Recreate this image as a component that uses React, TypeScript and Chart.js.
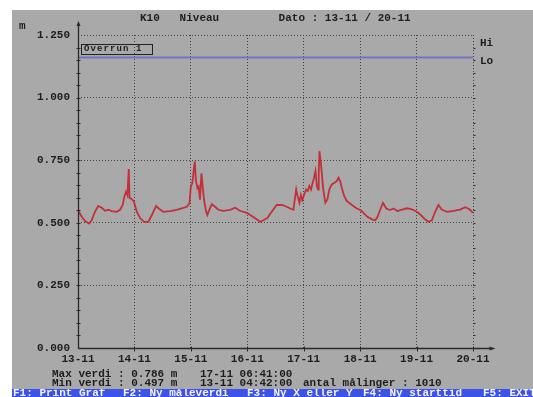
import React, { useEffect, useRef } from "react";
import { Chart, registerables } from "chart.js";

Chart.register(...registerables);

// ---- data ----
const dayLabels = ["13-11", "14-11", "15-11", "16-11", "17-11", "18-11", "19-11", "20-11"];
const yTickValues = [0, 0.25, 0.5, 0.75, 1.0, 1.25];
// hours since 13-11 00:00
const hours = [
  0, 1.6, 3.0, 4.7, 5.8, 7.2, 8.6, 10.1, 11.5, 12.9, 14.3, 16.5, 17.9, 19.0, 19.7, 20.4, 21.0, 21.6, 21.9, 22.8,
  23.8, 25.0, 26.4, 28.1, 29.9, 31.4, 33.2, 34.6, 36.3, 39.1, 42.0, 44.1, 46.3, 47.4, 48.0, 48.6, 49.1, 49.7, 50.1, 50.8,
  51.3, 51.9, 52.5, 52.9, 53.6, 54.5, 55.0, 55.8, 56.9, 58.3, 59.7, 61.8, 64.7, 66.8, 68.9, 71.8, 73.9, 76.0, 77.4, 78.8,
  80.5, 82.4, 84.5, 86.7, 88.8, 90.2, 91.6, 92.8, 93.3, 94.2, 94.8, 95.4, 96.2, 97.0, 97.7, 98.4, 99.1, 99.8, 100.4, 101.0,
  101.6, 102.1, 102.4, 102.7, 103.4, 104.3, 105.2, 106.1, 106.9, 107.9, 109.1, 110.1, 110.8, 111.5, 112.2, 113.2, 114.3, 115.7, 117.1, 118.6,
  120.3, 121.7, 123.1, 125.0, 126.4, 127.4, 128.5, 129.7, 131.1, 132.8, 134.2, 135.9, 137.5, 139.9, 142.0, 144.1, 145.8, 147.6, 149.1, 150.5,
  151.9, 153.3, 154.7, 156.9, 159.7, 162.5, 164.7, 166.5, 168,
];
const levels = [
  0.55, 0.524, 0.507, 0.497, 0.51, 0.544, 0.567, 0.56, 0.548, 0.552, 0.547, 0.544, 0.552, 0.571, 0.604, 0.624, 0.61, 0.715, 0.6, 0.595,
  0.584, 0.544, 0.519, 0.504, 0.504, 0.531, 0.567, 0.555, 0.544, 0.547, 0.552, 0.558, 0.564, 0.578, 0.645, 0.658, 0.698, 0.745, 0.672, 0.638,
  0.645, 0.592, 0.698, 0.658, 0.592, 0.544, 0.531, 0.551, 0.574, 0.564, 0.552, 0.548, 0.552, 0.56, 0.548, 0.54, 0.527, 0.514, 0.504, 0.51,
  0.519, 0.544, 0.571, 0.571, 0.564, 0.557, 0.552, 0.633, 0.61, 0.58, 0.61, 0.59, 0.613, 0.633, 0.627, 0.647, 0.633, 0.66, 0.68, 0.707,
  0.647, 0.633, 0.7, 0.786, 0.728, 0.633, 0.58, 0.594, 0.633, 0.653, 0.66, 0.667, 0.68, 0.667, 0.64, 0.607, 0.587, 0.577, 0.567, 0.557,
  0.55, 0.537, 0.524, 0.514, 0.51, 0.524, 0.551, 0.58, 0.557, 0.551, 0.557, 0.547, 0.552, 0.558, 0.554, 0.544, 0.531, 0.514, 0.504, 0.51,
  0.544, 0.571, 0.553, 0.544, 0.548, 0.553, 0.562, 0.554, 0.54,
];
const loLevel = 1.16;

const FONT = "'Liberation Mono', 'DejaVu Sans Mono', monospace";
const TEXT = "#1e1e1e";
const GRAY = "#a9a9a9";

const axisPlugin = {
  id: "dosAxes",
  afterDraw(chart: any) {
    const { ctx, chartArea } = chart;
    const y = chart.scales.y;
    const x = chart.scales.x;
    const L = Math.round(chartArea.left) + 0.5;
    const R = Math.round(chartArea.right) + 0.5;
    const B = Math.round(chartArea.bottom) + 0.5;
    const T = Math.round(chartArea.top);
    ctx.save();
    ctx.strokeStyle = "#2a2a2a";
    ctx.fillStyle = "#2a2a2a";
    ctx.lineWidth = 1.3;
    ctx.setLineDash([]);
    // y axis
    ctx.beginPath();
    ctx.moveTo(L, B);
    ctx.lineTo(L, T - 11);
    ctx.stroke();
    ctx.beginPath();
    ctx.moveTo(L, T - 14);
    ctx.lineTo(L - 2, T - 9);
    ctx.lineTo(L + 2, T - 9);
    ctx.closePath();
    ctx.fill();
    // x axis
    ctx.beginPath();
    ctx.moveTo(L, B);
    ctx.lineTo(R + 18, B);
    ctx.stroke();
    ctx.beginPath();
    ctx.moveTo(R + 22, B);
    ctx.lineTo(R + 16, B - 2);
    ctx.lineTo(R + 16, B + 2);
    ctx.closePath();
    ctx.fill();
    // minor ticks on y axis and right edge
    ctx.lineWidth = 1;
    for (let v = 0.05; v < 1.25; v += 0.05) {
      const py = Math.round(y.getPixelForValue(v)) + 0.5;
      ctx.beginPath();
      ctx.moveTo(L - 2, py);
      ctx.lineTo(L + 2, py);
      ctx.stroke();
      ctx.beginPath();
      ctx.moveTo(R, py);
      ctx.lineTo(R + 2, py);
      ctx.stroke();
    }
    // x ticks
    for (let d = 1; d < dayLabels.length; d++) {
      const px = Math.round(x.getPixelForValue(d * 24)) + 0.5;
      ctx.beginPath();
      ctx.moveTo(px, B - 2);
      ctx.lineTo(px, B + 3);
      ctx.stroke();
    }
    ctx.restore();
  },
};

const txt = (left: number, top: number, s: string, extra: any = {}) => (
  <span
    style={{
      position: "absolute",
      left,
      top,
      whiteSpace: "pre",
      font: `bold 11px ${FONT}`,
      lineHeight: "11px",
      color: TEXT,
      ...extra,
    }}
  >
    {s}
  </span>
);

export default function App() {
  const ref = useRef<HTMLCanvasElement | null>(null);
  useEffect(() => {
    if (!ref.current) return;
    const chart = new Chart(ref.current, {
      type: "line",
      data: {
        datasets: [
          {
            data: hours.map((h, i) => ({ x: h, y: levels[i] })),
            borderColor: "#c2303a",
            borderWidth: 1.8,
            pointRadius: 0,
            tension: 0,
          },
          {
            data: [
              { x: 0, y: loLevel },
              { x: 168, y: loLevel },
            ],
            borderColor: "#7272c2",
            borderWidth: 2,
            pointRadius: 0,
          },
        ],
      },
      options: {
        responsive: false,
        animation: false,
        layout: { padding: { left: 12, top: 35, right: 60, bottom: 8 } },
        plugins: { legend: { display: false }, tooltip: { enabled: false }, title: { display: false } },
        scales: {
          x: {
            type: "linear",
            min: 0,
            max: 168,
            afterFit: (s: any) => {
              s.height = 41;
            },
            afterBuildTicks: (s: any) => {
              s.ticks = dayLabels.map((_, i) => ({ value: i * 24 }));
            },
            ticks: {
              callback: (v: any) => dayLabels[Math.round(Number(v) / 24)],
              color: TEXT,
              font: { family: FONT, size: 11, weight: "bold" },
              padding: 5,
              maxRotation: 0,
              autoSkip: false,
            },
            grid: { color: "#444", lineWidth: 1, drawTicks: false },
            border: { display: false, dash: [1, 2] },
          },
          y: {
            min: 0,
            max: 1.25,
            afterFit: (s: any) => {
              s.width = 66;
            },
            afterBuildTicks: (s: any) => {
              s.ticks = yTickValues.map((v) => ({ value: v }));
            },
            ticks: {
              callback: (v: any) => Number(v).toFixed(3),
              color: TEXT,
              font: { family: FONT, size: 11, weight: "bold" },
              padding: 8,
            },
            grid: { color: "#444", lineWidth: 1, drawTicks: false },
            border: { display: false, dash: [1, 2] },
          },
        },
      },
      plugins: [axisPlugin],
    } as any);
    return () => chart.destroy();
  }, []);

  return (
    <div style={{ position: "fixed", left: 0, top: 0, width: 533, height: 397, background: "#fff", overflow: "hidden" }}>
      <div style={{ position: "absolute", left: 12, top: 10, width: 521, height: 387, background: GRAY }} />
      <canvas ref={ref} width={533} height={397} style={{ position: "absolute", left: 0, top: 0, display: "block" }} />
      {txt(140, 13, "K10   Niveau         Dato : 13-11 / 20-11")}
      {txt(19, 21, "m")}
      {txt(480, 38, "Hi")}
      {txt(480, 56, "Lo")}
      <div
        style={{
          position: "absolute",
          left: 81,
          top: 44,
          width: 70,
          height: 9,
          border: "1px solid #222",
          boxSizing: "content-box",
        }}
      />
      {txt(84, 45, "Overrun 1", { fontSize: "9px", lineHeight: "9px", letterSpacing: "1.1px" })}
      {txt(52, 369, "Max verdi : 0.786 m")}
      {txt(200, 369, "17-11 06:41:00")}
      {txt(52, 378, "Min verdi : 0.497 m")}
      {txt(200, 378, "13-11 04:42:00")}
      {txt(303, 378, "antal målinger : 1010")}
      <div style={{ position: "absolute", left: 12, top: 389, width: 521, height: 8, background: "#3d52e6", overflow: "hidden" }}>
        {txt(1, -1.5, "F1: Print Graf", { color: "#f2f2ff" })}
        {txt(111, -1.5, "F2: Ny måleverdi", { color: "#f2f2ff" })}
        {txt(235, -1.5, "F3: Ny X eller Y", { color: "#f2f2ff" })}
        {txt(351, -1.5, "F4: Ny starttid", { color: "#f2f2ff" })}
        {txt(471, -1.5, "F5: EXIT", { color: "#f2f2ff" })}
      </div>
    </div>
  );
}
